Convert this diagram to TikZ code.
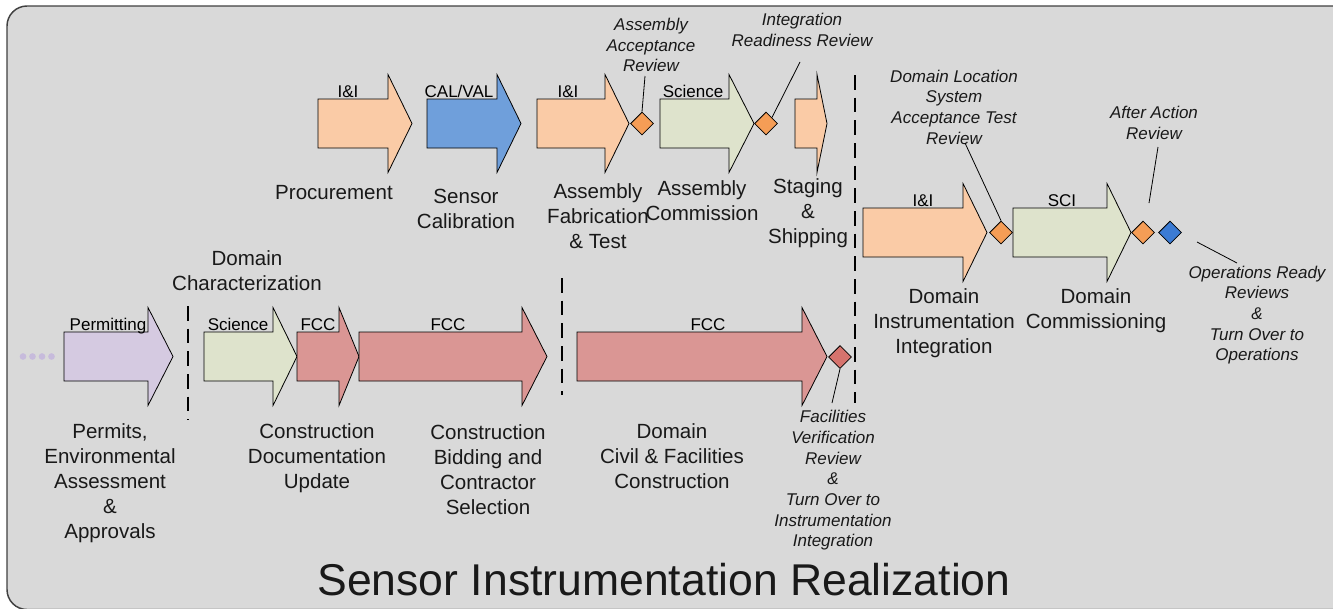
\documentclass[tikz,border=0pt]{standalone}
\usepackage{fontspec}
\setmainfont{Liberation Sans}
\usetikzlibrary{shapes.geometric}
\definecolor{bgc}{HTML}{D9D9D9}
\definecolor{peach}{HTML}{FACBA6}
\definecolor{calblue}{HTML}{6F9FDB}
\definecolor{sciG}{HTML}{DEE3CC}
\definecolor{fccR}{HTML}{DA9694}
\definecolor{permP}{HTML}{D5CAE1}
\definecolor{dotP}{HTML}{C7BBDC}
\definecolor{dOr}{HTML}{F59D56}
\definecolor{dRed}{HTML}{D6736D}
\definecolor{dBlue}{HTML}{3B7BD4}
\tikzset{
  arrowline/.style={draw=black, line width=0.6pt, line join=miter},
  smalllbl/.style={font=\fontsize{12.75}{15}\selectfont, inner sep=0pt, anchor=base},
  mainlbl/.style={font=\fontsize{15.4}{18.75}\selectfont, align=center, inner sep=0pt, text=black!90},
  itallbl/.style={font=\fontsize{12.75}{15.5}\selectfont\itshape, align=center, inner sep=0pt, text=black!90},
  dia/.style={diamond, draw=black, line width=0.6pt, minimum width=17.25pt, minimum height=17.25pt, inner sep=0pt},
  sepline/.style={line width=1.5pt, dash pattern=on 11pt off 6pt},
  leader/.style={line width=0.6pt},
  dotnode/.style={circle, fill=dotP, minimum size=5pt, inner sep=0pt}
}
% #1 left, #2 head base, #3 tip, #4 centre y, #5 fill, #6 name
\newcommand\blockarrow[6]{%
  \draw[arrowline, fill=#5] (#1,#4-24.5) -- (#2,#4-24.5) -- (#2,#4-49) -- (#3,#4)
    -- (#2,#4+49) -- (#2,#4+24.5) -- (#1,#4+24.5) -- cycle;
  \coordinate (#6) at (#1,#4);
}
\begin{document}
\begin{tikzpicture}[x=0.75pt,y=-0.75pt]
\useasboundingbox (0,0) rectangle (1333,608);
\begin{scope}
  \clip (0,0) rectangle (1333,608);
  \draw[line width=1.1pt, draw=black!75, fill=bgc, rounded corners=15pt] (7,6) rectangle (1360,609.5);
\end{scope}

% ---------- top row ----------
\blockarrow{318}{388}{412}{123.5}{peach}{aProc}
\blockarrow{427}{497}{521}{123.5}{calblue}{aCal}
\blockarrow{537}{605}{629}{123.5}{peach}{aFab}
\blockarrow{660}{729}{754}{123.5}{sciG}{aCom}
\blockarrow{795}{817}{827}{123.5}{peach}{aShip}
\node[dia, fill=dOr] (dAAR) at (642,123.5) {};
\node[dia, fill=dOr] (dIRR) at (766,123.5) {};

\node[smalllbl] (lProc) at (348,97) {I\&I};
\node[smalllbl] (lCal) at (459,97) {CAL/VAL};
\node[smalllbl] (lFab) at (568,97) {I\&I};
\node[smalllbl] (lCom) at (693,97) {Science};

\node[mainlbl] (tProc) at (334,193) {Procurement};
\node[mainlbl] (tCal) at (466,208.5) {Sensor\\Calibration};
\node[mainlbl] (tFab) at (598,216) {Assembly\\Fabrication\\\& Test};
\node[mainlbl] (tCom) at (702,201) {Assembly\\Commission};
\node[mainlbl] (tShip) at (808,213) {Staging\\\&\\Shipping};

\node[itallbl] (iAAR) at (651,45) {Assembly\\Acceptance\\Review};
\node[itallbl] (iIRR) at (802,30) {Integration\\Readiness Review};
\coordinate (eAAR) at (645,76);
\coordinate (eIRR) at (800,62);
\draw[leader] (dAAR.north) -- (eAAR);
\draw[leader] (dIRR.north east) -- (eIRR);

% ---------- bottom row ----------
\node[dotnode] (p1) at (23,356.5) {};
\node[dotnode] (p2) at (32.5,356.5) {};
\node[dotnode] (p3) at (42,356.5) {};
\node[dotnode] (p4) at (51.5,356.5) {};
\blockarrow{64}{148}{173}{356.5}{permP}{aPerm}
\blockarrow{204}{273}{297}{356.5}{sciG}{aChar}
\blockarrow{297}{339}{359}{356.5}{fccR}{aDoc}
\blockarrow{359}{522}{547}{356.5}{fccR}{aBid}
\blockarrow{577}{802}{827}{356.5}{fccR}{aCivil}
\node[dia, fill=dRed] (dFVR) at (840,357) {};

\node[smalllbl] (lPerm) at (108,330) {Permitting};
\node[smalllbl] (lChar) at (238,330) {Science};
\node[smalllbl] (lDoc) at (318,330) {FCC};
\node[smalllbl] (lBid) at (448,330) {FCC};
\node[smalllbl] (lCivil) at (708,330) {FCC};

\node[mainlbl] (tChar) at (247,270.5) {Domain\\Characterization};
\node[mainlbl] (tPerm) at (110,483) {Permits,\\Environmental\\Assessment\\\&\\Approvals};
\node[mainlbl] (tDoc) at (317,458) {Construction\\Documentation\\Update};
\node[mainlbl] (tBid) at (488,470) {Construction\\Bidding and\\Contractor\\Selection};
\node[mainlbl] (tCivil) at (672,456) {Domain\\Civil \& Facilities\\Construction};

\node[itallbl] (iFVR) at (833,480.5) {Facilities\\Verification\\Review\\\&\\Turn Over to\\Instrumentation\\Integration};
\coordinate (eFVR) at (832,403);
\draw[leader] (dFVR.south) -- (eFVR);

% ---------- right row ----------
\blockarrow{863}{963}{987}{232.5}{peach}{aInt}
\blockarrow{1013}{1107}{1131}{232.5}{sciG}{aSCI}
\node[dia, fill=dOr] (dLoc) at (1001,232.5) {};
\node[dia, fill=dOr] (dAfter) at (1143,232.5) {};
\node[dia, fill=dBlue] (dOps) at (1170,232.5) {};

\node[smalllbl] (lInt) at (923,206) {I\&I};
\node[smalllbl] (lSCI) at (1062,206) {SCI};

\node[mainlbl] (tInt) at (944,323) {Domain\\Instrumentation\\Integration};
\node[mainlbl] (tSCI) at (1096,310.5) {Domain\\Commissioning};

\node[itallbl] (iLoc) at (954,107) {Domain Location\\System\\Acceptance Test\\Review};
\node[itallbl] (iAfter) at (1154,123) {After Action\\Review};
\node[itallbl] (iOps) at (1257,315) {Operations Ready\\Reviews\\\&\\Turn Over to\\Operations};
\coordinate (eLoc) at (965,143);
\coordinate (sAfter) at (1149,203);
\coordinate (eAfter) at (1158,147);
\coordinate (sOps) at (1197,242);
\coordinate (eOps) at (1237,263);
\draw[leader] (dLoc.north) -- (eLoc);
\draw[leader] (sAfter) -- (eAfter);
\draw[leader] (sOps) -- (eOps);

% ---------- separators ----------
\coordinate (s1a) at (188,306); \coordinate (s1b) at (188,420);
\coordinate (s2a) at (562,278); \coordinate (s2b) at (562,395);
\coordinate (s3a) at (855,75);  \coordinate (s3b) at (855,403);
\draw[sepline] (s1a) -- (s1b);
\draw[sepline] (s2a) -- (s2b);
\draw[sepline] (s3a) -- (s3b);

% ---------- title ----------
\node[font=\fontsize{33.4}{40}\selectfont, inner sep=0pt, text=black!90] (title) at (664,580) {Sensor Instrumentation Realization};
\end{tikzpicture}
\end{document}
